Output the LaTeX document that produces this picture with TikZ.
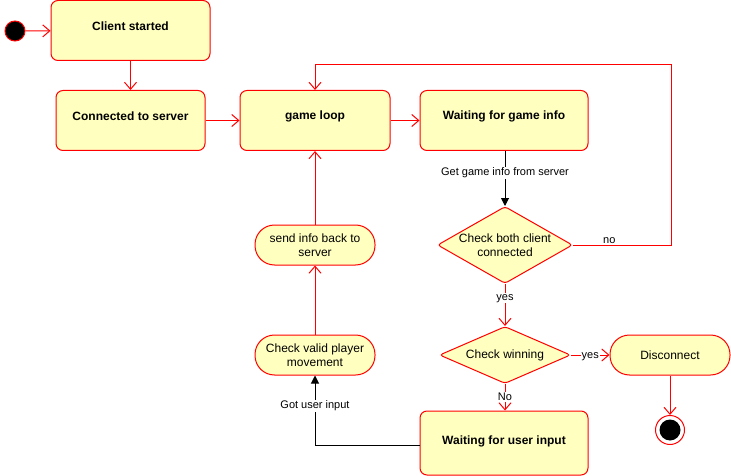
\documentclass[tikz,border=0pt]{standalone}
\usepackage{fontspec}
\setmainfont{Liberation Sans}
\usetikzlibrary{arrows.meta,shapes.geometric}
\definecolor{statefill}{HTML}{FFFFC0}
\definecolor{statered}{HTML}{FF0000}
\begin{document}
\begin{tikzpicture}[x=1pt,y=-1pt,line width=1pt,
  bigstate/.style={draw=statered,fill=statefill,rounded corners=7pt,minimum width=#1,minimum height=60pt,inner sep=0pt},
  bigstate/.default=150pt,
  pill/.style={draw=statered,fill=statefill,rounded corners=19.5pt,minimum width=120pt,minimum height=40pt,inner sep=0pt,align=center,font=\fontsize{12}{14.5}\selectfont},
  choice/.style={draw=statered,fill=statefill,diamond,rounded corners=3pt,inner sep=0pt},
  ctxt/.style={align=center,font=\fontsize{12}{14.5}\selectfont},
  btxt/.style={font=\bfseries\fontsize{12}{14}\selectfont,yshift=4pt},
  lbl/.style={fill=white,inner sep=1pt,font=\fontsize{11}{13}\selectfont},
  redarrow/.style={draw=statered,-{Straight Barb[length=7pt,width=12pt]}},
  blackarrow/.style={draw=black,-{Triangle[length=8pt,width=8pt]}}]
\useasboundingbox (0,0) rectangle (731,476);
% nodes
\node[circle,draw=statered,fill=black,minimum size=20pt,inner sep=0pt] (init) at (15,31) {};
\node[bigstate=159pt,label={[btxt]center:Client started}] (cs) at (130.5,30.5) {};
\node[bigstate=149pt,label={[btxt]center:Connected to server}] (cts) at (130.5,120.5) {};
\node[bigstate=150pt,label={[btxt]center:game loop}] (gl) at (315,120.5) {};
\node[bigstate=168pt,label={[btxt]center:Waiting for game info}] (wgi) at (504,120.5) {};
\node[choice,minimum width=135pt,minimum height=77pt,label={[ctxt]center:Check both client\\connected}] (cb) at (505,245) {};
\node[choice,minimum width=131pt,minimum height=57pt,label={[ctxt]center:Check winning}] (cw) at (505,355) {};
\node[pill] (disc) at (670,355) {Disconnect};
\node[circle,draw=statered,fill=white,minimum size=29pt,inner sep=0pt] (endo) at (670,430) {};
\node[circle,fill=black,minimum size=21pt,inner sep=0pt] (endi) at (endo) {};
\node[bigstate=168pt,minimum height=64pt,label={[btxt,yshift=-2pt]center:Waiting for user input}] (wui) at (504,443) {};
\node[pill] (cvp) at (315,355) {Check valid player\\movement};
\node[pill] (sib) at (315,245) {send info back to\\server};
% connectors
\draw[redarrow] (init) -- (cs);
\draw[redarrow] (cs) -- (cts);
\draw[redarrow] (cts) -- (gl);
\draw[redarrow] (gl) -- (wgi);
\draw[blackarrow] (wgi.south -| cb.north) -- node[lbl,pos=0.4]{Get game info from server} (cb.north);
\draw[redarrow] (cb.east) -- node[lbl,above,pos=0.37,fill=none]{no} ++(98,0) |- ([yshift=25pt]gl.north) -- (gl.north);
\draw[redarrow] (cb.south) -- node[lbl,pos=0.34]{yes} (cw.north);
\draw[redarrow] (cw.east) -- node[lbl,pos=0.5,yshift=-2pt]{yes} (disc.west);
\draw[redarrow] (cw.south) -- node[lbl,pos=0.5]{No} (wui.north -| cw.south);
\draw[redarrow] (disc) -- (endo);
\draw[blackarrow] ([yshift=-2pt]wui.west) -| node[lbl,pos=0.78]{Got user input} (cvp.south);
\draw[redarrow] (cvp) -- (sib);
\draw[redarrow] (sib) -- (gl);
\end{tikzpicture}
\end{document}
